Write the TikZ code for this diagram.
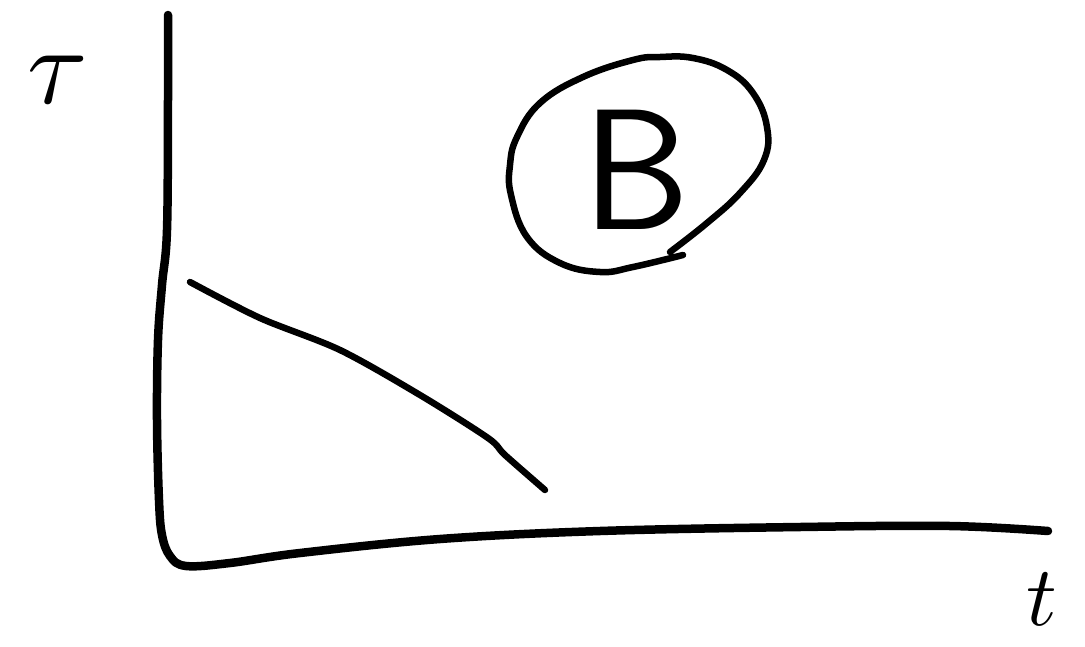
\documentclass[tikz,border=0pt]{standalone}
\begin{document}
\begin{tikzpicture}[x=1pt,y=-1pt,
  pen/.style={line width=8.5pt, line cap=round, line join=round},
  thinpen/.style={line width=6.5pt, line cap=round, line join=round},
  lbl/.style={inner sep=0pt}]
\useasboundingbox (0,0) rectangle (1085,646);
% axes
\draw[pen] plot[smooth, tension=0.6] coordinates {(168,15) (168,100) (167,230) (162,285) (158,340) (157,420) (159,500) (162,535) (170,556) (186,566) (230,563) (300,553) (440,539) (600,531) (800,527) (950,526) (1048,531)};
% curve
\draw[thinpen] plot[smooth, tension=0.5] coordinates {(190,282) (260,318) (340,350) (420,395) (488,438) (505,455) (545,490)};
% ellipse
\draw[thinpen] plot[smooth, tension=0.7] coordinates {(683,255) (633,267) (600,272) (560,263) (527,237) (511,195) (510,165) (517,137) (540,103) (583,77) (633,60) (660,57) (693,58) (727,70) (753,93) (767,127) (764,160) (740,193) (707,223) (670,252)};
% labels
\node[lbl,scale=11] (tau) at (58,80) {$\tau$};
\node[lbl] (B) at (636,170) {\fontsize{172}{172}\selectfont\sffamily B};
\node[lbl,scale=8.5] (t) at (1042,599) {$t$};
\end{tikzpicture}
\end{document}
